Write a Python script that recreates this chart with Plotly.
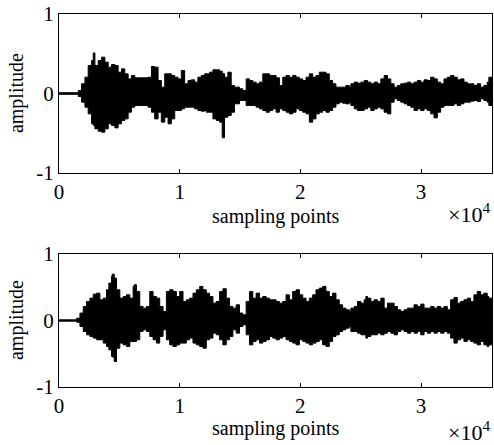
import plotly.graph_objects as go

# ---- data (envelope of the waveforms) ----
top_samples = [0, 1320, 1600, 1870, 2150, 2420, 2700, 2840, 2975, 3250, 3530, 3800, 4080, 4350, 4630,
               4900, 5180, 5450, 5730, 6000, 6280, 6830, 7380, 7660, 7930, 8210, 8480, 8760, 9040,
               9310, 9590, 9860, 10140, 10410, 10690, 10960, 11240, 11510, 11790, 12070, 12204,
               12479, 12755, 13030, 13306, 13526, 13719, 13994, 14270, 14545, 14959, 15234, 15510,
               15785, 16061, 16336, 16612, 16887, 17163, 17438, 17713, 17989, 18264, 18540, 18815,
               19091, 19366, 19642, 19917, 20193, 20468, 20744, 21019, 21295, 21570, 21846, 22121,
               22397, 22672, 22948, 23223, 23499, 23774, 24050, 24187, 24463, 24738, 25014, 25289,
               25565, 25840, 26116, 26391, 26667, 26942, 27218, 27493, 27769, 28044, 28320, 28595,
               28871, 29146, 29421, 29697, 29972, 30248, 30523, 30799, 31074, 31350, 31625, 31901,
               32176, 32452, 32727, 33003, 33278, 33554, 33829, 34105, 34380, 34656, 34931, 35207,
               35482, 35620, 35900]
top_upper = [0.01, 0.01, 0.038, 0.122, 0.205, 0.352, 0.415, 0.51, 0.352, 0.415, 0.457, 0.394, 0.331,
             0.365, 0.352, 0.268, 0.310, 0.247, 0.184, 0.226, 0.197, 0.197, 0.205, 0.340, 0.331,
             0.164, 0.080, 0.247, 0.247, 0.226, 0.205, 0.184, 0.289, 0.122, 0.164, 0.172, 0.143,
             0.205, 0.226, 0.247, 0.247, 0.268, 0.298, 0.298, 0.281, 0.25, 0.205, 0.268, 0.101,
             0.080, 0.059, 0.038, 0.184, 0.164, 0.143, 0.122, 0.143, 0.247, 0.247, 0.226, 0.226,
             0.197, 0.101, 0.205, 0.226, 0.205, 0.226, 0.205, 0.184, 0.164, 0.205, 0.247, 0.205,
             0.226, 0.268, 0.268, 0.247, 0.164, 0.122, 0.080, 0.080, 0.080, 0.101, 0.080, 0.122,
             0.143, 0.130, 0.143, 0.164, 0.143, 0.122, 0.143, 0.122, 0.184, 0.226, 0.184, 0.122,
             0.080, 0.101, 0.122, 0.130, 0.143, 0.122, 0.143, 0.164, 0.143, 0.172, 0.164, 0.205,
             0.184, 0.143, 0.122, 0.184, 0.205, 0.226, 0.205, 0.172, 0.184, 0.143, 0.122, 0.122,
             0.101, 0.122, 0.080, 0.101, 0.143, 0.205, 0.205]
top_lower = [-0.01, -0.01, -0.038, -0.109, -0.172, -0.256, -0.381, -0.40, -0.444, -0.474, -0.486,
             -0.444, -0.381, -0.402, -0.432, -0.381, -0.339, -0.319, -0.235, -0.172, -0.151, -0.151,
             -0.172, -0.235, -0.319, -0.235, -0.36, -0.298, -0.381, -0.319, -0.214, -0.214, -0.193,
             -0.172, -0.172, -0.172, -0.193, -0.214, -0.222, -0.214, -0.235, -0.235, -0.319, -0.339,
             -0.36, -0.557, -0.298, -0.277, -0.235, -0.130, -0.088, -0.088, -0.151, -0.151, -0.151,
             -0.172, -0.193, -0.214, -0.235, -0.214, -0.193, -0.235, -0.193, -0.214, -0.235, -0.256,
             -0.235, -0.193, -0.214, -0.235, -0.256, -0.36, -0.319, -0.256, -0.235, -0.214, -0.235,
             -0.214, -0.172, -0.130, -0.109, -0.121, -0.130, -0.109, -0.151, -0.193, -0.214, -0.214,
             -0.193, -0.172, -0.214, -0.193, -0.172, -0.193, -0.235, -0.256, -0.109, -0.067, -0.088,
             -0.109, -0.130, -0.151, -0.172, -0.214, -0.193, -0.214, -0.193, -0.214, -0.256, -0.306,
             -0.235, -0.172, -0.151, -0.151, -0.151, -0.130, -0.151, -0.130, -0.109, -0.109, -0.096,
             -0.088, -0.100, -0.067, -0.088, -0.109, -0.151, -0.151]

bottom_samples = [0, 1320, 1460, 1736, 2011, 2287, 2562, 2837, 3113, 3388, 3664, 3939, 4132, 4353,
                  4408, 4573, 4766, 5041, 5317, 5592, 5868, 6143, 6226, 6419, 6694, 6970, 7245, 7521,
                  7796, 8072, 8347, 8623, 8898, 9174, 9449, 9725, 10000, 10275, 10551, 10826, 11102,
                  11377, 11653, 11928, 12204, 12479, 12755, 13030, 13306, 13581, 13857, 14132, 14408,
                  14683, 14959, 15234, 15510, 15785, 16061, 16336, 16612, 16887, 17163, 17438, 17713,
                  17989, 18264, 18540, 18815, 19091, 19366, 19642, 19917, 20193, 20468, 20744, 21019,
                  21295, 21570, 21846, 22121, 22397, 22672, 22948, 23223, 23499, 23774, 24050, 24187,
                  24463, 24738, 25014, 25289, 25427, 25565, 25840, 26116, 26391, 26667, 26942, 27218,
                  27493, 27769, 28044, 28320, 28595, 28871, 29146, 29421, 29697, 29972, 30248, 30523,
                  30799, 31074, 31350, 31625, 31901, 32176, 32452, 32727, 33003, 33278, 33554, 33829,
                  34105, 34380, 34656, 34931, 35207, 35482, 35620, 35900]
bottom_upper = [0.01, 0.01, 0.035, 0.111, 0.211, 0.286, 0.336, 0.396, 0.411, 0.311, 0.336, 0.462,
                0.562, 0.662, 0.697, 0.637, 0.462, 0.336, 0.361, 0.386, 0.336, 0.512, 0.537, 0.436,
                0.211, 0.186, 0.211, 0.436, 0.361, 0.336, 0.211, 0.136, 0.436, 0.462, 0.436, 0.361,
                0.436, 0.286, 0.311, 0.336, 0.411, 0.462, 0.512, 0.462, 0.411, 0.361, 0.261, 0.286,
                0.436, 0.477, 0.336, 0.211, 0.186, 0.236, 0.111, 0.085, 0.286, 0.436, 0.336, 0.411,
                0.336, 0.361, 0.336, 0.311, 0.311, 0.286, 0.261, 0.286, 0.386, 0.311, 0.436, 0.462,
                0.386, 0.336, 0.286, 0.336, 0.386, 0.462, 0.487, 0.512, 0.436, 0.361, 0.411, 0.311,
                0.236, 0.186, 0.161, 0.136, 0.186, 0.211, 0.286, 0.261, 0.311, 0.361, 0.336, 0.286,
                0.311, 0.286, 0.336, 0.186, 0.261, 0.261, 0.211, 0.161, 0.136, 0.161, 0.186, 0.186,
                0.236, 0.211, 0.246, 0.186, 0.186, 0.211, 0.186, 0.211, 0.186, 0.211, 0.161, 0.311,
                0.346, 0.261, 0.286, 0.311, 0.336, 0.286, 0.386, 0.436, 0.386, 0.411, 0.361, 0.336,
                0.336]
bottom_lower = [-0.01, -0.01, -0.025, -0.090, -0.165, -0.215, -0.240, -0.265, -0.290, -0.290, -0.340,
                -0.391, -0.441, -0.541, -0.55, -0.616, -0.416, -0.340, -0.366, -0.391, -0.315,
                -0.315, -0.315, -0.290, -0.165, -0.140, -0.165, -0.240, -0.290, -0.340, -0.240,
                -0.140, -0.290, -0.366, -0.391, -0.366, -0.340, -0.340, -0.290, -0.265, -0.340,
                -0.366, -0.391, -0.416, -0.290, -0.265, -0.190, -0.215, -0.290, -0.366, -0.290,
                -0.240, -0.140, -0.190, -0.090, -0.065, -0.215, -0.366, -0.315, -0.290, -0.340,
                -0.315, -0.290, -0.240, -0.265, -0.290, -0.265, -0.240, -0.290, -0.315, -0.340,
                -0.366, -0.290, -0.315, -0.340, -0.366, -0.340, -0.315, -0.290, -0.366, -0.391,
                -0.315, -0.240, -0.215, -0.165, -0.140, -0.115, -0.090, -0.165, -0.165, -0.190,
                -0.215, -0.215, -0.265, -0.240, -0.215, -0.215, -0.190, -0.215, -0.190, -0.165,
                -0.190, -0.215, -0.165, -0.140, -0.165, -0.190, -0.165, -0.190, -0.165, -0.215,
                -0.165, -0.190, -0.165, -0.190, -0.165, -0.190, -0.165, -0.190, -0.265, -0.340,
                -0.290, -0.265, -0.315, -0.290, -0.315, -0.340, -0.366, -0.315, -0.366, -0.391,
                -0.366, -0.366]

x_tick_values = [0, 10000, 20000, 30000]
x_tick_labels = ["0", "1", "2", "3"]
y_tick_values = [-1, 0, 1]
y_tick_labels = ["-1", "0", "1"]
x_max = 35880

FONT = "Liberation Serif, Times New Roman, serif"

fig = go.Figure()


def add_wave(samples, upper, lower, xa, ya):
    fig.add_trace(go.Scatter(x=samples, y=lower, mode="lines", line=dict(color="black", width=1, shape="hv"),
                             xaxis=xa, yaxis=ya, showlegend=False, hoverinfo="skip"))
    fig.add_trace(go.Scatter(x=samples, y=upper, mode="lines", line=dict(color="black", width=1, shape="hv"),
                             fill="tonexty", fillcolor="black",
                             xaxis=xa, yaxis=ya, showlegend=False, hoverinfo="skip"))


add_wave(top_samples, top_upper, top_lower, "x", "y")
add_wave(bottom_samples, bottom_upper, bottom_lower, "x2", "y2")

axis_common = dict(showline=True, linecolor="black", linewidth=1, mirror="ticks", ticks="inside",
                   ticklen=4, tickcolor="black", showgrid=False, zeroline=False,
                   tickfont=dict(family=FONT, size=21, color="black"))

fig.update_layout(
    width=494, height=445,
    margin=dict(l=59, r=2, t=14, b=58),
    paper_bgcolor="white", plot_bgcolor="white",
    xaxis=dict(domain=[0, 1], anchor="y", range=[0, x_max], tickvals=x_tick_values,
               ticktext=x_tick_labels, **axis_common),
    yaxis=dict(domain=[0.5737, 1], anchor="x", range=[-1, 1], tickvals=y_tick_values,
               ticktext=y_tick_labels, **axis_common),
    xaxis2=dict(domain=[0, 1], anchor="y2", range=[0, x_max], tickvals=x_tick_values,
                ticktext=x_tick_labels, **axis_common),
    yaxis2=dict(domain=[0, 0.3566], anchor="x2", range=[-1, 1], tickvals=y_tick_values,
                ticktext=y_tick_labels, **axis_common),
)

ann_font = dict(family=FONT, size=20, color="black")
annotations = [
    dict(text="amplitude", x=-0.0993, y=0.788, textangle=-90),
    dict(text="amplitude", x=-0.0993, y=0.1796, textangle=-90),
    dict(text="sampling points", x=0.5, y=0.4584),
    dict(text="sampling points", x=0.5, y=-0.1126),
]
for a in annotations:
    fig.add_annotation(xref="paper", yref="paper", showarrow=False, font=ann_font,
                       xanchor="center", yanchor="middle", **a)
for yy in [0.4665, -0.118]:
    fig.add_annotation(xref="paper", yref="paper", showarrow=False,
                       font=dict(family=FONT, size=22, color="black"),
                       text="×10<sup>4</sup>", x=1.0, y=yy, xanchor="right", yanchor="middle")

fig.write_html("out.html", config={"displayModeBar": False},
               post_script="document.body.style.margin='0';")
